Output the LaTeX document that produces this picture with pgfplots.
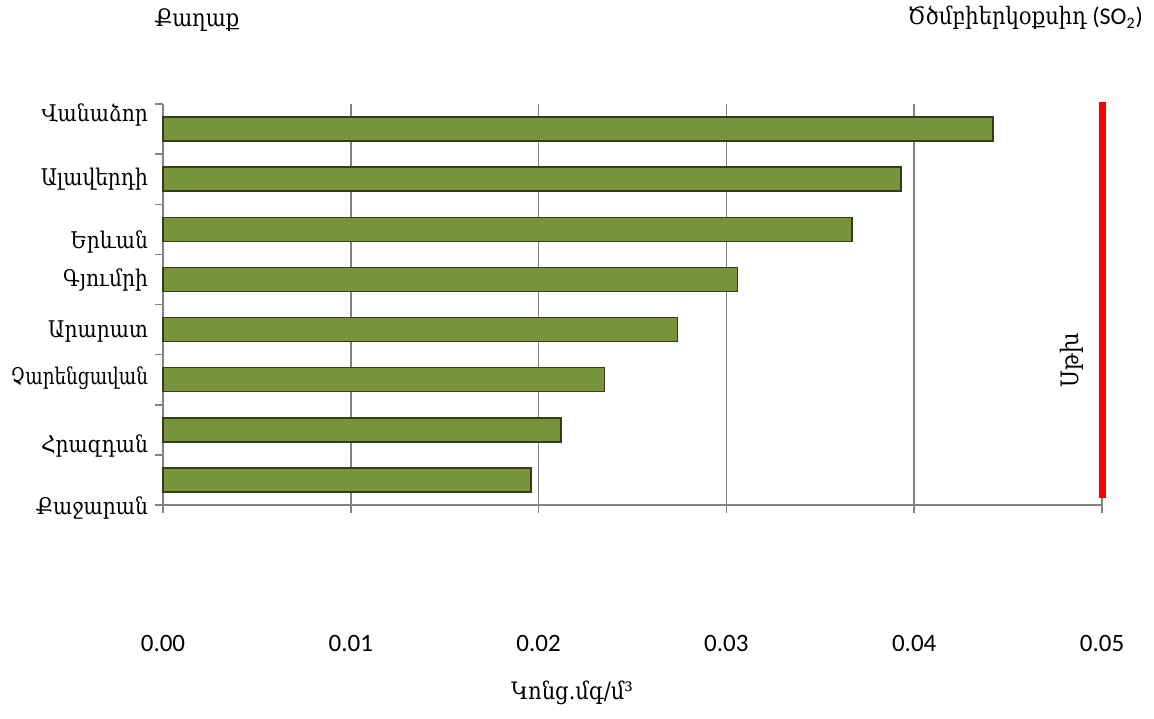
\documentclass[border=0pt]{standalone}
\usepackage{fontspec}
\setmainfont{Carlito}
\newfontfamily\armnarrow[FakeStretch=0.88]{DejaVu Serif}
\newfontfamily\armnarrower[FakeStretch=0.8]{DejaVu Serif}
\usepackage{pgfplots}
\pgfplotsset{compat=1.18}
\definecolor{barfill}{RGB}{119,147,60}
\definecolor{barline}{RGB}{50,62,26}
\definecolor{gridgray}{RGB}{130,130,130}
\begin{document}
\begin{tikzpicture}[x=1pt,y=1pt]
\useasboundingbox (0,0) rectangle (577,359);
\begin{axis}[
  at={(81.5pt,106.5pt)}, anchor=south west,
  scale only axis, width=469.5pt, height=200.5pt,
  xmin=0, xmax=0.05, ymin=0, ymax=8,
  clip=false,
  axis lines=left,
  axis line style={gridgray, line width=0.75pt, -},
  xtick={0,0.01,0.02,0.03,0.04,0.05},
  scaled x ticks=false,
  xticklabel style={/pgf/number format/fixed, /pgf/number format/fixed zerofill,
    /pgf/number format/precision=2, /pgf/number format/assume math mode=true,
    font=\fontsize{12.5}{14}\selectfont, anchor=center, yshift=-65pt},
  xmajorgrids,
  grid style={gridgray, line width=0.8pt},
  tick align=outside,
  major tick length=4pt,
  tick style={gridgray, line width=0.75pt},
  ytick={0,1,2,3,4,5,6,7,8},
  yticklabels={},
  % city names sit at their own heights, apart from the category marks
  extra y ticks={7.66,6.37,5.12,4.35,3.35,2.40,1.05,0},
  extra y tick labels={Վանաձոր,Ալավերդի,Երևան,Գյումրի,Արարատ,{\armnarrower Չարենցավան},Հրազդան,\raisebox{-4.5pt}{Քաջարան}},
  extra y tick style={major tick length=0pt,
    yticklabel style={anchor=base east, xshift=-4pt, font=\armnarrow\fontsize{11.5}{13}\selectfont}},
]
\addplot[xbar, bar width=12pt, fill=barfill, draw=barline, line width=0.75pt]
  coordinates {(0.0442,7.5) (0.0393,6.5) (0.0367,5.5) (0.0306,4.5)
               (0.0274,3.5) (0.0235,2.5) (0.0212,1.5) (0.0196,0.5)};
\addplot[red, line width=3.5pt] coordinates {(0.05,0.14) (0.05,8.04)};
\node[rotate=90, font=\armnarrow\fontsize{12}{14}\selectfont] at (axis cs:0.0484,2.89) {Սթխ};
\end{axis}
\node[font=\armnarrow\fontsize{12}{14}\selectfont] at (98.5,349) {Քաղաք};
\node[anchor=east, font=\fontsize{12}{14}\selectfont] at (575,350) {{\armnarrow Ծծմբիերկօքսիդ} (SO\textsubscript{2})};
\node[font=\armnarrow\fontsize{12}{14}\selectfont] at (286,12.5) {Կոնց.մգ/մ³};
\end{tikzpicture}
\end{document}
